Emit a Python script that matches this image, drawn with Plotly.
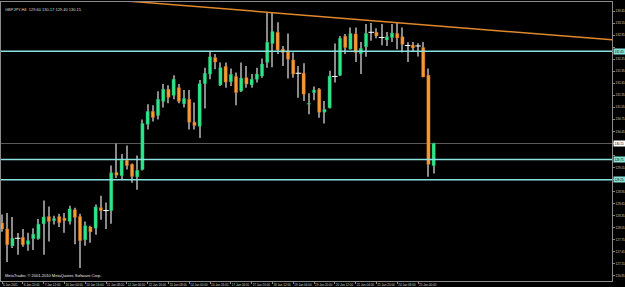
import plotly.graph_objects as go

# ---- data (GBPJPY, H4) ----
opens = [128.17, 128.02, 127.60, 127.79, 127.81, 127.64, 127.78, 127.78, 128.15, 128.33,
         128.23, 128.33, 128.29, 128.21, 128.50, 128.33, 127.75, 128.07, 128.04, 128.55,
         128.48, 128.48, 129.43, 129.35, 129.73, 129.63, 129.32, 129.50, 130.63, 130.95,
         130.85, 131.20, 131.50, 131.35, 131.54, 131.14, 131.25, 130.68, 130.58, 131.64,
         131.88, 132.29, 131.61, 132.07, 131.69, 131.82, 131.46, 131.79, 131.61, 131.75,
         131.83, 132.17, 132.64, 132.92, 132.50, 132.43, 132.23, 131.90, 131.90, 131.13,
         131.42, 131.50, 130.93, 131.04, 131.82, 131.85, 132.82, 132.50, 132.88, 132.39,
         132.56, 132.92, 132.92, 132.79, 132.73, 132.79, 132.89, 132.81, 132.59, 132.60,
         132.58, 132.54, 131.85, 129.60]
highs = [128.38, 128.42, 128.32, 127.92, 128.02, 127.93, 128.04, 128.27, 128.73, 128.58,
         128.35, 128.40, 128.42, 128.60, 128.55, 128.40, 128.21, 128.10, 128.63, 128.85,
         128.68, 129.60, 130.15, 129.89, 130.10, 129.65, 129.85, 130.75, 131.13, 131.10,
         131.45, 131.63, 131.60, 131.85, 131.63, 131.48, 131.48, 131.17, 131.73, 132.04,
         132.46, 132.38, 132.17, 132.17, 132.02, 131.92, 132.17, 132.08, 131.88, 132.04,
         132.27, 133.42, 133.40, 133.17, 132.58, 132.89, 132.42, 132.08, 132.15, 131.40,
         131.57, 131.53, 131.21, 131.96, 132.64, 132.83, 132.88, 133.04, 133.04, 132.68,
         133.13, 133.15, 133.02, 133.13, 132.93, 133.13, 133.15, 133.04, 132.67, 132.68,
         132.65, 132.68, 132.02, 130.17]
lows = [127.95, 127.20, 127.55, 127.38, 127.58, 127.48, 127.50, 127.75, 127.38, 127.71,
        128.13, 128.07, 127.93, 128.13, 127.64, 127.05, 127.60, 127.68, 127.88, 128.25,
        128.02, 128.15, 129.29, 129.25, 129.50, 129.17, 129.00, 129.48, 130.50, 130.70,
        130.75, 131.05, 131.15, 131.25, 131.15, 131.05, 130.50, 130.50, 130.29, 131.02,
        131.75, 132.00, 131.58, 131.54, 131.58, 131.10, 131.43, 131.54, 131.54, 131.67,
        131.79, 132.04, 132.05, 132.38, 132.08, 131.77, 131.79, 131.29, 131.21, 130.88,
        131.23, 130.79, 130.65, 131.02, 131.67, 131.83, 132.38, 132.49, 132.18, 131.88,
        132.31, 132.71, 132.77, 132.60, 132.58, 132.68, 132.50, 132.42, 132.18, 132.43,
        132.32, 131.80, 129.32, 129.40]
closes = [128.02, 127.63, 127.79, 127.79, 127.63, 127.73, 127.89, 128.14, 128.32, 128.21,
          128.28, 128.18, 128.23, 128.52, 128.31, 127.73, 128.10, 127.95, 128.57, 128.48,
          128.48, 129.42, 129.36, 129.73, 129.60, 129.33, 129.48, 130.65, 130.95, 130.80,
          131.25, 131.50, 131.30, 131.75, 131.20, 131.27, 130.68, 130.60, 131.64, 131.90,
          132.31, 132.18, 132.04, 131.68, 131.87, 131.42, 131.78, 131.63, 131.75, 131.88,
          132.13, 132.67, 132.94, 132.48, 132.42, 132.25, 131.88, 131.90, 131.38, 131.15,
          131.48, 130.93, 131.00, 131.83, 131.82, 132.77, 132.54, 132.89, 132.42, 132.52,
          132.89, 132.92, 132.83, 132.79, 132.81, 132.90, 132.78, 132.62, 132.59, 132.53,
          132.58, 131.81, 129.63, 130.15]

tick_labels = ["6 Jan 2011", "6 Jan 20:00", "7 Jan 12:00", "10 Jan 00:00", "10 Jan 16:00",
               "11 Jan 08:00", "12 Jan 00:00", "12 Jan 16:00", "13 Jan 08:00", "14 Jan 00:00",
               "14 Jan 16:00", "17 Jan 04:00", "17 Jan 20:00", "18 Jan 12:00", "19 Jan 04:00",
               "19 Jan 20:00", "20 Jan 12:00", "21 Jan 04:00", "21 Jan 20:00", "24 Jan 08:00",
               "25 Jan 00:00"]
label_every = 4

levels = [132.45, 129.75, 129.25]          # horizontal support/resistance lines
bid = 130.15                               # current price line
trend_bar, trend_price, trend_slope = 51, 133.42, -0.01035   # trend line anchor (bar, price, per bar)

symbol = "GBPJPY,H4"

# ---- styling ----
BULL = "#2fe58a"
BULL_EDGE = "#22b86c"
BEAR = "#f59a35"
BEAR_EDGE = "#c9701c"
WICK = "#8a8a8a"
CYAN = "#86e3dd"
FONT = "Liberation Sans"

n = len(opens)
idx = list(range(n))

fig = go.Figure()

# wicks (thin bars so that bodies can be layered on top)
fig.add_trace(go.Bar(x=idx, y=[highs[i] - lows[i] for i in idx], base=lows, width=0.19,
                     marker=dict(color=WICK, line=dict(width=0)),
                     showlegend=False, hoverinfo="skip"))

# bodies
for kind, col, edge in (("bull", BULL, BULL_EDGE), ("bear", BEAR, BEAR_EDGE)):
    xs, bases, hs = [], [], []
    for i in idx:
        o, c = opens[i], closes[i]
        if (kind == "bull" and c > o) or (kind == "bear" and c < o):
            xs.append(i)
            bases.append(min(o, c))
            hs.append(abs(c - o))
    fig.add_trace(go.Bar(x=xs, y=hs, base=bases, width=0.62,
                         marker=dict(color=col, line=dict(width=0.4, color=edge)),
                         showlegend=False, hoverinfo="skip"))

# dojis
dx = [i for i in idx if opens[i] == closes[i]]
dy = [closes[i] for i in dx]
fig.add_trace(go.Scatter(x=dx, y=dy, mode="markers",
                         marker=dict(symbol="line-ew", size=4, line=dict(color="white", width=1)),
                         showlegend=False, hoverinfo="skip"))

# trend line
x0, x1 = -0.2, 117.3
fig.add_trace(go.Scatter(x=[x0, x1],
                         y=[trend_price + trend_slope * (x0 - trend_bar),
                            trend_price + trend_slope * (x1 - trend_bar)],
                         mode="lines", line=dict(color="#e0882c", width=1.5),
                         showlegend=False, hoverinfo="skip"))

shapes = []
for lv in levels:
    shapes.append(dict(type="line", xref="paper", x0=0, x1=1, yref="y", y0=lv, y1=lv,
                       line=dict(color=CYAN, width=1.5)))
shapes.append(dict(type="line", xref="paper", x0=0, x1=1, yref="y", y0=bid, y1=bid,
                   line=dict(color="#5a5a5a", width=1), layer="below"))

annotations = []
for lv in levels:
    annotations.append(dict(xref="paper", x=1.0, xanchor="left", xshift=1, yref="y", y=lv,
                            text=f"{lv:.2f}", showarrow=False, bgcolor=CYAN,
                            font=dict(family=FONT, size=3, color="#000000"), borderpad=0.5))
annotations.append(dict(xref="paper", x=1.0, xanchor="left", xshift=1, yref="y", y=bid,
                        text=f"{bid:.2f}", showarrow=False, bgcolor="#ffffff",
                        font=dict(family=FONT, size=3, color="#000000"), borderpad=0.5))
annotations.append(dict(xref="paper", yref="paper", x=0.004, y=0.99, xanchor="left", yanchor="top",
                        text=f"{symbol}  {opens[-1]:.2f} {highs[-1]:.2f} {lows[-1]:.2f} {closes[-1]:.2f}",
                        showarrow=False, font=dict(family=FONT, size=4, color="#d8d8d8")))
annotations.append(dict(xref="paper", yref="paper", x=0.004, y=0.005, xanchor="left", yanchor="bottom",
                        text="MetaTrader, © 2001-2010 MetaQuotes Software Corp.",
                        showarrow=False, font=dict(family=FONT, size=4, color="#e8e8e8")))

# grid labels hidden where a highlighted price box sits on top of them
marked = levels + [bid]
ytick_vals = [round(130.15 + 0.3 * k, 2) for k in range(-12, 12)]
ytick_vals = [v for v in ytick_vals if 126.725 < v < 133.675]
ytick_text = ["" if any(abs(v - m) < 0.12 for m in marked) else f"{v:.2f}" for v in ytick_vals]

fig.update_layout(
    width=625, height=287,
    margin=dict(l=1, r=13, t=2, b=6, autoexpand=False),
    paper_bgcolor="#000000", plot_bgcolor="#000000",
    barmode="overlay",
    shapes=shapes, annotations=annotations,
    font=dict(family=FONT, size=3, color="#cfcfcf"),
    xaxis=dict(range=[-0.2, 117.3], showgrid=False, zeroline=False, automargin=False,
               showline=True, linecolor="#8a8a8a", linewidth=1, mirror=True,
               tickmode="array", tickvals=list(range(0, label_every * len(tick_labels), label_every)),
               ticktext=tick_labels, ticks="outside", ticklen=2, tickcolor="#8a8a8a",
               tickangle=0, ticklabelposition="outside right",
               tickfont=dict(family=FONT, size=3, color="#d0d0d0")),
    yaxis=dict(range=[126.725, 133.675], side="right", showgrid=False, zeroline=False,
               automargin=False,
               showline=True, linecolor="#8a8a8a", linewidth=1, mirror=True,
               tickmode="array", tickvals=ytick_vals, ticktext=ytick_text,
               ticks="outside", ticklen=2, tickcolor="#8a8a8a",
               tickfont=dict(family=FONT, size=3, color="#d0d0d0")),
)

fig.write_html("out.html")
